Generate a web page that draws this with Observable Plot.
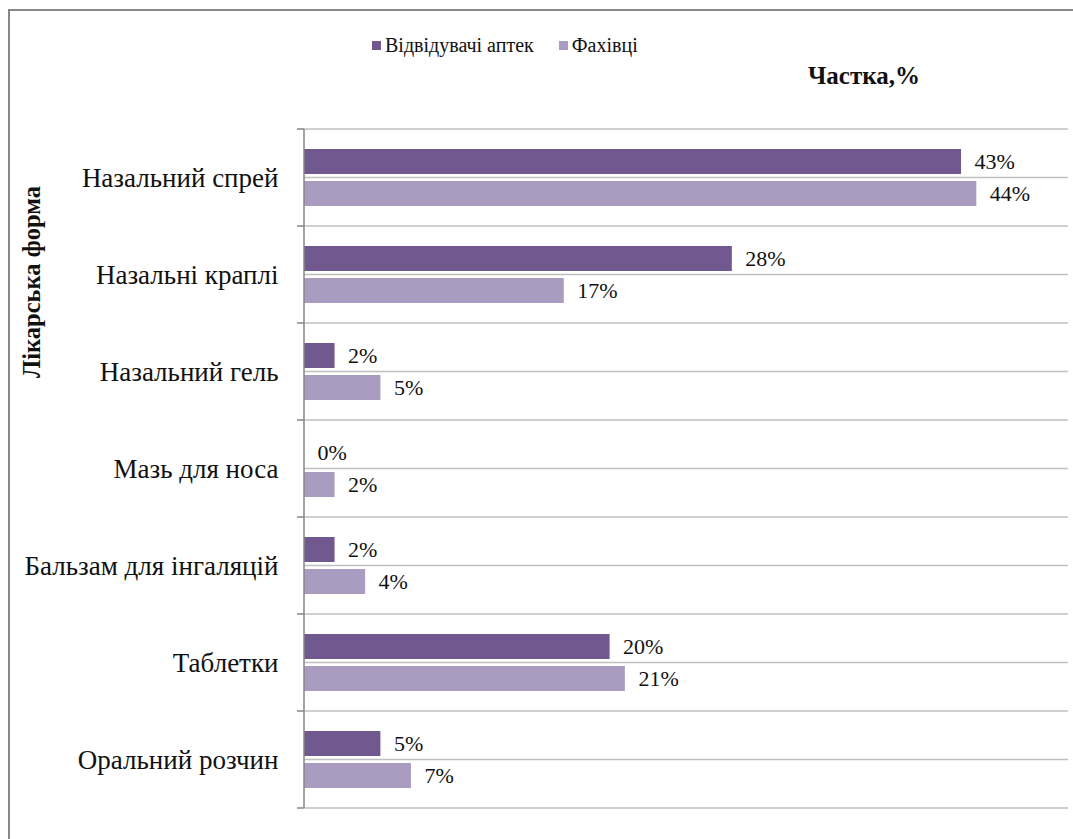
<!DOCTYPE html>
<html>
<head>
<meta charset="utf-8">
<script src="https://cdn.jsdelivr.net/npm/d3@7"></script>
<script src="https://cdn.jsdelivr.net/npm/@observablehq/plot@0.6"></script>
<style>
  body { margin: 0; background: #fff; }
  #wrap { position: relative; width: 1073px; height: 839px; overflow: hidden; font-family: "Liberation Serif", "Times New Roman", serif; }
  #frame { position: absolute; left: 8px; top: 9px; width: 1200px; height: 1000px; border-left: 2px solid #878787; border-top: 2px solid #878787; }
  #legend { position: absolute; left: 372px; top: 34px; display: flex; align-items: center; font-size: 20px; color: #111; }
  #legend .sw { display: inline-block; width: 9px; height: 9px; margin-right: 4px; }
  #legend .item { display: flex; align-items: center; margin-right: 25px; }
  #xlabel { position: absolute; left: 808px; top: 62px; font-size: 25px; font-weight: bold; color: #111; }
  #ylabel { position: absolute; left: 32px; top: 282px; font-size: 24.5px; font-weight: bold; color: #111; transform: translate(-50%, -50%) rotate(-90deg); white-space: nowrap; }
  #chart { position: absolute; left: 0; top: 0; }
</style>
</head>
<body>
<div id="wrap">
  <div id="frame"></div>
  <div id="chart"></div>
  <div id="legend"></div>
  <div id="xlabel">Частка,%</div>
  <div id="ylabel">Лікарська форма</div>
</div>
<script>
const categories = ["Назальний спрей", "Назальні краплі", "Назальний гель", "Мазь для носа", "Бальзам для інгаляцій", "Таблетки", "Оральний розчин"];
const seriesNames = ["Відвідувачі аптек", "Фахівці"];
const visitors = [43, 28, 2, 0, 2, 20, 5];
const specialists = [44, 17, 5, 2, 4, 21, 7];
const colors = ["#71588F", "#AA9BC0"];

const data = [];
categories.forEach((c, i) => {
  data.push({category: c, series: seriesNames[0], value: visitors[i]});
  data.push({category: c, series: seriesNames[1], value: specialists[i]});
});

// legend
const legend = document.getElementById("legend");
seriesNames.forEach((s, i) => {
  const item = document.createElement("span");
  item.className = "item";
  const sw = document.createElement("span");
  sw.className = "sw";
  sw.style.background = colors[i];
  item.appendChild(sw);
  item.appendChild(document.createTextNode(s));
  legend.appendChild(item);
});

const W = 1073, H = 839;
const plot = Plot.plot({
  width: W,
  height: H,
  marginLeft: 304,
  marginTop: 127,
  marginRight: 5,
  marginBottom: 29,
  style: {fontFamily: "'Liberation Serif', 'Times New Roman', serif", fontSize: "27px", color: "#111", background: "transparent"},
  x: {domain: [0, 50], axis: null},
  y: {domain: seriesNames, paddingInner: 0.22, paddingOuter: 0.6, axis: null},
  fy: {domain: categories, padding: 0, axis: "left", tickSize: 0, tickPadding: 26, label: null},
  color: {domain: seriesNames, range: colors},
  marks: [
    Plot.barX(data, {x: "value", y: "series", fy: "category", fill: "series"}),
    Plot.text(data, {x: "value", y: "series", fy: "category", text: d => d.value + "%", dx: 13, textAnchor: "start", fontSize: 22, fill: "#111"})
  ]
});
document.getElementById("chart").appendChild(plot);

// gridlines and axis drawn through the library's scales
const svg = d3.select(plot);
const fy = plot.scale("fy");
const xs = plot.scale("x");
const x0 = xs.apply(0), x1 = xs.apply(50);
const bw = fy.bandwidth;
const g = svg.insert("g", ":first-child");
const tops = categories.map(c => fy.apply(c));
const bounds = tops.concat([tops[tops.length - 1] + bw]);
bounds.forEach(y => {
  g.append("line").attr("x1", x0).attr("x2", x1).attr("y1", y).attr("y2", y).attr("stroke", "#BFBFBF").attr("stroke-width", 1.5);
  g.append("line").attr("x1", x0 - 7).attr("x2", x0).attr("y1", y).attr("y2", y).attr("stroke", "#868686").attr("stroke-width", 1.5);
});
tops.forEach(y => {
  const yc = y + bw / 2;
  g.append("line").attr("x1", x0).attr("x2", x1).attr("y1", yc).attr("y2", yc).attr("stroke", "#BFBFBF").attr("stroke-width", 1.5);
});
svg.append("line").attr("x1", x0).attr("x2", x0).attr("y1", bounds[0]).attr("y2", bounds[bounds.length - 1]).attr("stroke", "#868686").attr("stroke-width", 1.5);
</script>
</body>
</html>
